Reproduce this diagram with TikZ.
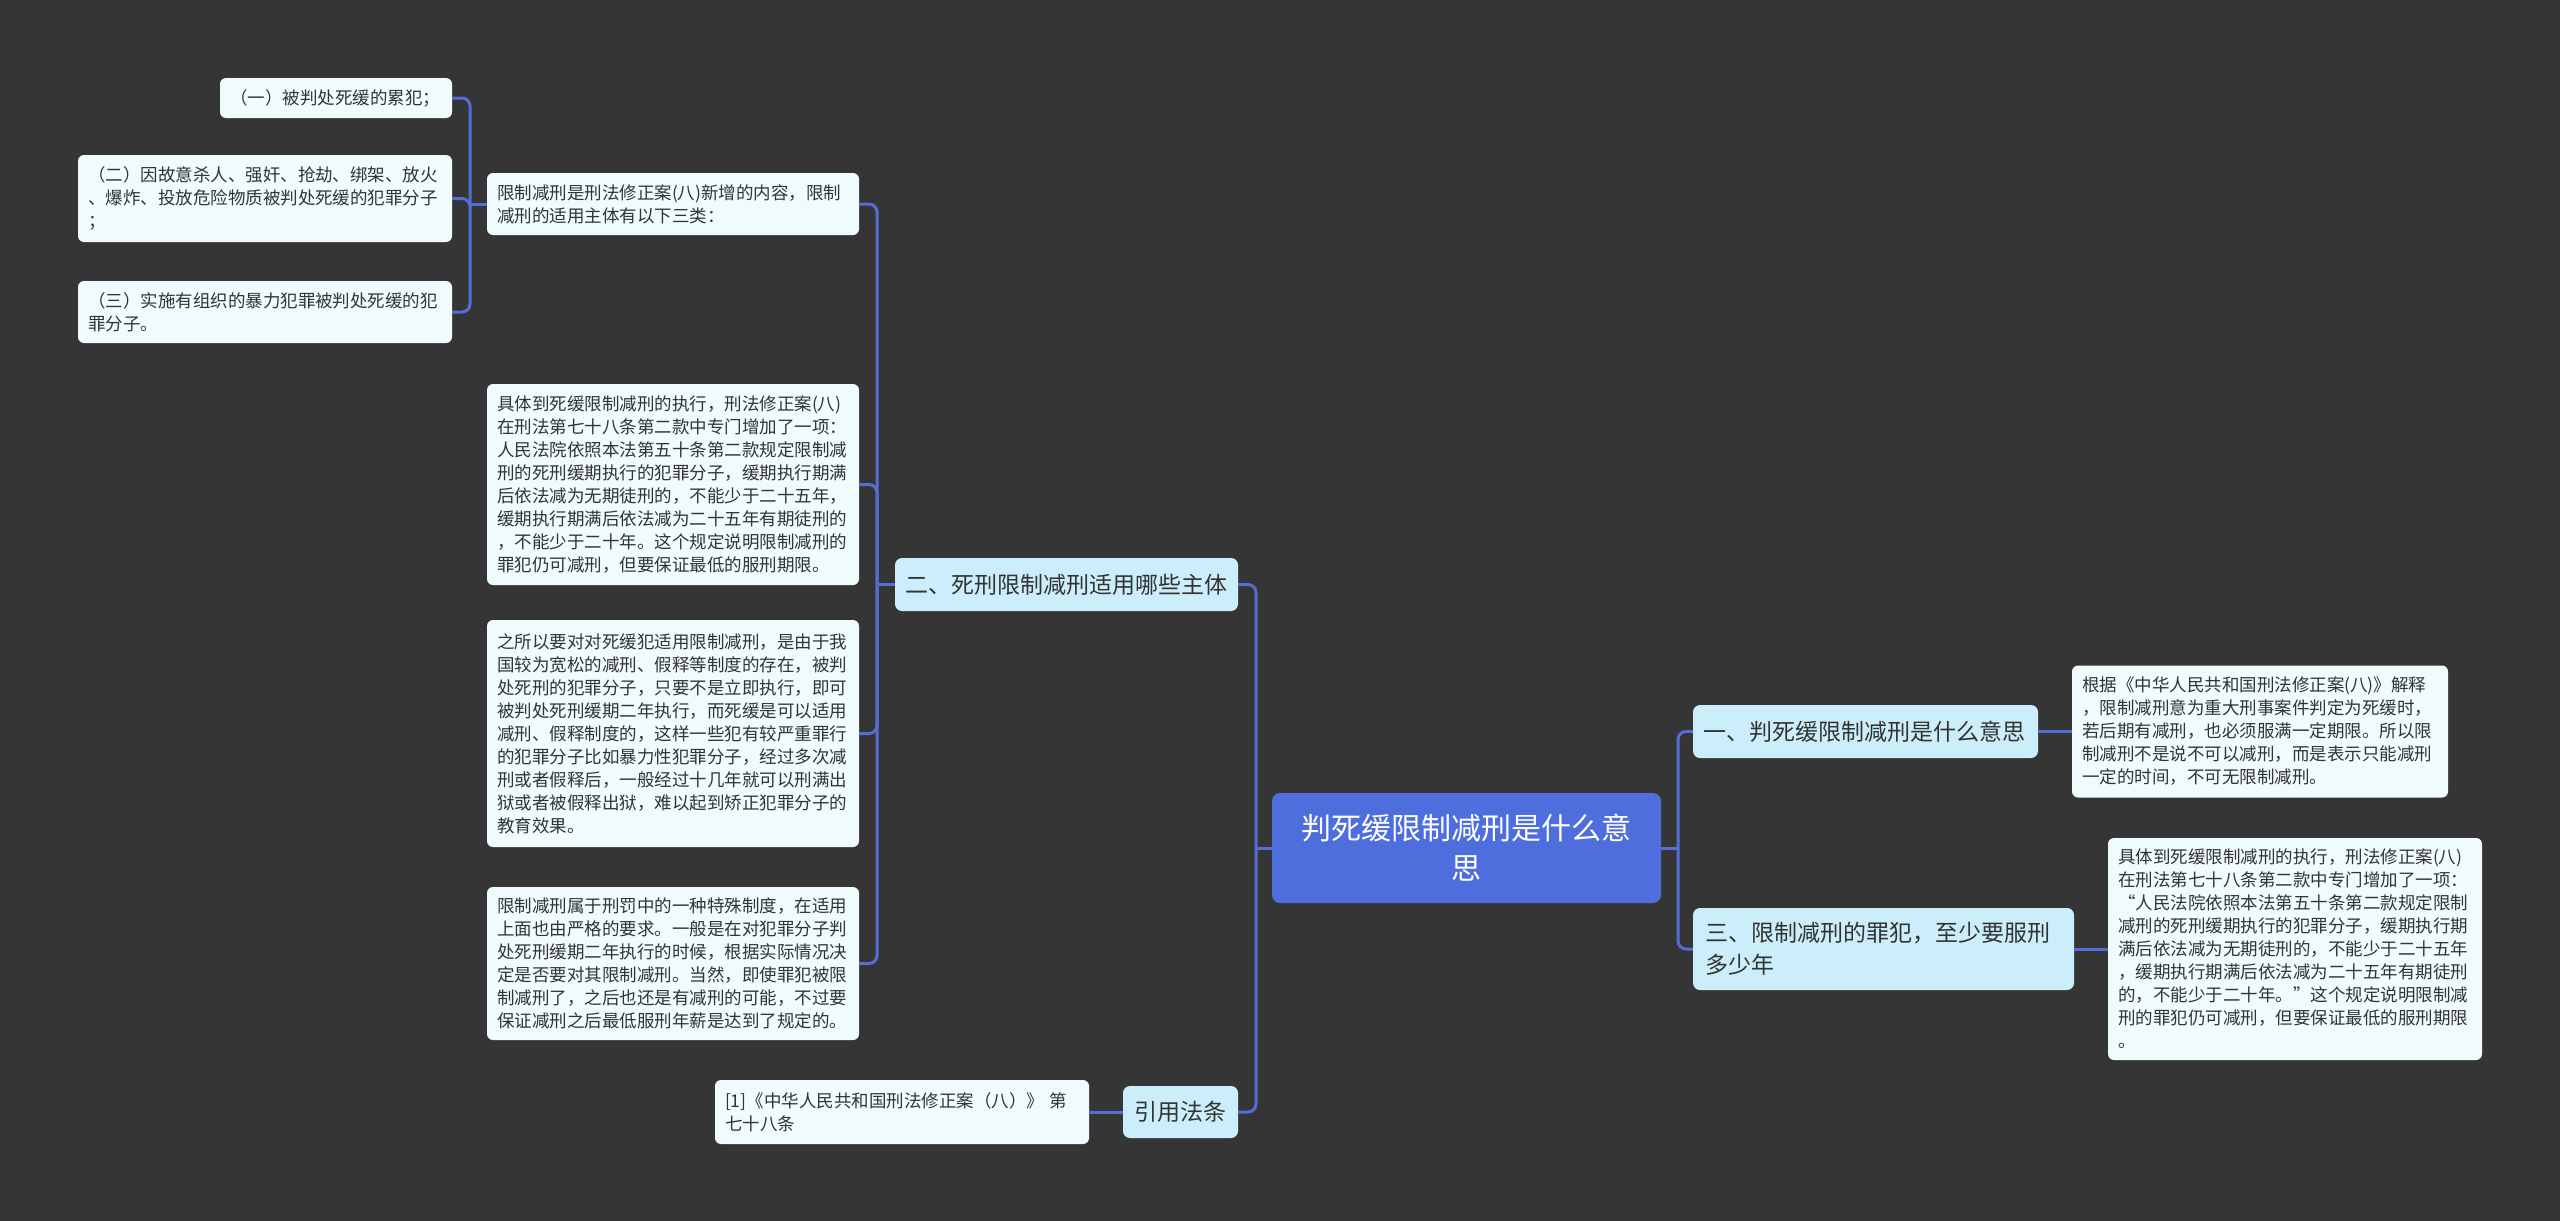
\documentclass[tikz,border=0pt]{standalone}
\usepackage{fontspec}
\setmainfont{Noto Sans CJK SC}
\usepackage{tikz}
\usetikzlibrary{calc}
\definecolor{bgdark}{RGB}{54,53,53}
\definecolor{rootblue}{RGB}{78,110,222}
\definecolor{topicfill}{RGB}{204,238,251}
\definecolor{leaffill}{RGB}{240,251,253}
\definecolor{linkblue}{RGB}{86,108,214}
\definecolor{inkgray}{RGB}{51,51,51}

\begin{document}
\begin{tikzpicture}[x=1pt, y=-1pt,
  rootbox/.style={rectangle, rounded corners=8pt, fill=rootblue, text=white,
                  font=\fontsize{30}{40}\selectfont, align=center, inner xsep=10pt},
  topic/.style={rectangle, rounded corners=7pt, fill=topicfill, text=inkgray,
                font=\fontsize{23}{32}\selectfont, align=left, inner xsep=10pt, inner ysep=6pt},
  leaf/.style={rectangle, rounded corners=6pt, fill=leaffill, text=inkgray,
               font=\fontsize{17.5}{23}\selectfont, align=left, inner xsep=10pt, inner ysep=6pt},
  link/.style={draw=linkblue, line width=3pt, rounded corners=8pt}
]
\fill[bgdark] (0,0) rectangle (2560,1221);
\useasboundingbox (0,0) rectangle (2560,1221);

%% ── Root ────────────────────────────────────────────────────────────────
\node[rootbox, text width=340pt, minimum width=389pt, minimum height=110pt] (root)
  at (1466.5,848) {判死缓限制减刑是什么意\\思};

%% ── Right branch ────────────────────────────────────────────────────────
\node[topic, text width=325pt, minimum height=53pt] (meaning) at (1865.5,731.5)
  {一、判死缓限制减刑是什么意思};
\node[leaf, text width=356pt, minimum height=132pt] (meaningtxt) at (2260,731.5)
  {根据《中华人民共和国刑法修正案(八)》解释\\，限制减刑意为重大刑事案件判定为死缓时，\\若后期有减刑，也必须服满一定期限。所以限\\制减刑不是说不可以减刑，而是表示只能减刑\\一定的时间，不可无限制减刑。};

\node[topic, text width=357pt, inner xsep=12pt, minimum height=82pt] (minterm) at (1883.5,949)
  {三、限制减刑的罪犯，至少要服刑\\多少年};
\node[leaf, text width=354pt, minimum height=222pt] (mintermtxt) at (2295,949)
  {具体到死缓限制减刑的执行，刑法修正案(八)\\在刑法第七十八条第二款中专门增加了一项：\\“人民法院依照本法第五十条第二款规定限制\\减刑的死刑缓期执行的犯罪分子，缓期执行期\\满后依法减为无期徒刑的，不能少于二十五年\\，缓期执行期满后依法减为二十五年有期徒刑\\的，不能少于二十年。”这个规定说明限制减\\刑的罪犯仍可减刑，但要保证最低的服刑期限\\。};

%% ── Left branch ─────────────────────────────────────────────────────────
\node[topic, text width=323pt, minimum height=53pt] (subject) at (1066.5,584.5)
  {二、死刑限制减刑适用哪些主体};
\node[topic, text width=93pt, minimum width=115pt, minimum height=52pt] (cite) at (1180.5,1112)
  {引用法条};
\node[leaf, text width=354pt, minimum height=64pt] (citetxt) at (902,1112)
  {[1]《中华人民共和国刑法修正案（八）》 第\\七十八条};

\node[leaf, text width=352pt, minimum height=62pt] (intro) at (673,204)
  {限制减刑是刑法修正案(八)新增的内容，限制\\减刑的适用主体有以下三类：};
\node[leaf, text width=352pt, minimum height=201pt] (detail) at (673,484.5)
  {具体到死缓限制减刑的执行，刑法修正案(八)\\在刑法第七十八条第二款中专门增加了一项：\\人民法院依照本法第五十条第二款规定限制减\\刑的死刑缓期执行的犯罪分子，缓期执行期满\\后依法减为无期徒刑的，不能少于二十五年，\\缓期执行期满后依法减为二十五年有期徒刑的\\，不能少于二十年。这个规定说明限制减刑的\\罪犯仍可减刑，但要保证最低的服刑期限。};
\node[leaf, text width=352pt, minimum height=227pt] (reason) at (673,733.5)
  {之所以要对对死缓犯适用限制减刑，是由于我\\国较为宽松的减刑、假释等制度的存在，被判\\处死刑的犯罪分子，只要不是立即执行，即可\\被判处死刑缓期二年执行，而死缓是可以适用\\减刑、假释制度的，这样一些犯有较严重罪行\\的犯罪分子比如暴力性犯罪分子，经过多次减\\刑或者假释后，一般经过十几年就可以刑满出\\狱或者被假释出狱，难以起到矫正犯罪分子的\\教育效果。};
\node[leaf, text width=352pt, minimum height=153pt] (rule) at (673,963.5)
  {限制减刑属于刑罚中的一种特殊制度，在适用\\上面也由严格的要求。一般是在对犯罪分子判\\处死刑缓期二年执行的时候，根据实际情况决\\定是否要对其限制减刑。当然，即使罪犯被限\\制减刑了，之后也还是有减刑的可能，不过要\\保证减刑之后最低服刑年薪是达到了规定的。};

\node[leaf, text width=212pt, minimum height=40pt] (cat1) at (336,98)
  {（一）被判处死缓的累犯；};
\node[leaf, text width=354pt, minimum height=87pt] (cat2) at (265,198.5)
  {（二）因故意杀人、强奸、抢劫、绑架、放火\\、爆炸、投放危险物质被判处死缓的犯罪分子\\；};
\node[leaf, text width=354pt, minimum height=62pt] (cat3) at (265,312)
  {（三）实施有组织的暴力犯罪被判处死缓的犯\\罪分子。};

%% ── Connectors ──────────────────────────────────────────────────────────
\coordinate (lsp) at (1256,848);
\coordinate (rsp) at (1678,848);
\coordinate (ssp) at (877,584.5);
\coordinate (isp) at (470,204);

\draw[link] (root.west) -- (lsp);
\draw[link] (lsp) |- (subject.east);
\draw[link] (lsp) |- (cite.east);

\draw[link] (root.east) -- (rsp);
\draw[link] (rsp) |- (meaning.west);
\draw[link] (rsp) |- (minterm.west);
\draw[link] (meaning.east) -- (meaningtxt.west);
\draw[link] (minterm.east) -- (mintermtxt.west);

\draw[link] (cite.west) -- (citetxt.east);
\draw[link] (subject.west) -- (ssp);
\foreach \n in {intro,detail,reason,rule}
  \draw[link] (ssp) |- (\n.east);

\draw[link] (intro.west) -- (isp);
\foreach \n in {cat1,cat2,cat3}
  \draw[link] (isp) |- (\n.east);

\end{tikzpicture}
\end{document}
